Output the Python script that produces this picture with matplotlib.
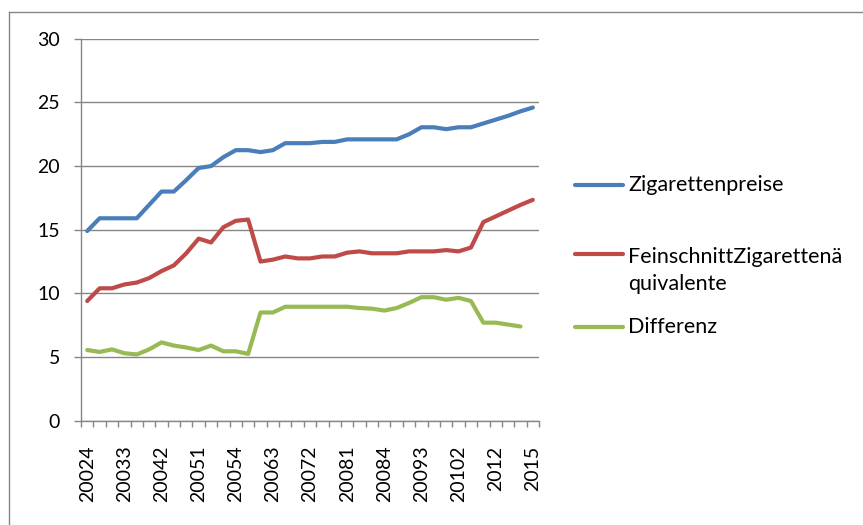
import numpy as np
import matplotlib.pyplot as plt
from matplotlib.lines import Line2D

plt.rcParams['font.family'] = ['Lato', 'DejaVu Sans']

#%% data
quartale = ['20024', '20031', '20032', '20033', '20034', '20041', '20042', '20043',
            '20044', '20051', '20052', '20053', '20054', '20061', '20062', '20063',
            '20064', '20071', '20072', '20073', '20074', '20081', '20082', '20083',
            '20084', '20091', '20092', '20093', '20094', '20101', '20102', '20103',
            '2011', '2012', '2013', '2014', '2015']

zigarettenpreise = [14.9, 15.9, 15.9, 15.9, 15.9, 16.95, 18.0, 18.0, 18.9, 19.85,
                    20.0, 20.7, 21.25, 21.25, 21.1, 21.25, 21.8, 21.8, 21.8, 21.9,
                    21.9, 22.1, 22.1, 22.1, 22.1, 22.1, 22.5, 23.05, 23.05, 22.9,
                    23.05, 23.05, 23.35, 23.65, 23.95, 24.3, 24.6]

feinschnitt = [9.4, 10.4, 10.4, 10.7, 10.85, 11.2, 11.75, 12.2, 13.15, 14.3,
               14.0, 15.2, 15.7, 15.8, 12.5, 12.65, 12.9, 12.75, 12.75, 12.9,
               12.9, 13.2, 13.3, 13.15, 13.15, 13.15, 13.3, 13.3, 13.3, 13.4,
               13.3, 13.6, 15.6, 16.05, 16.5, 16.95, 17.35]

differenz = [5.55, 5.4, 5.6, 5.3, 5.2, 5.6, 6.15, 5.9, 5.75, 5.55,
             5.9, 5.45, 5.45, 5.25, 8.5, 8.5, 8.95, 8.95, 8.95, 8.95,
             8.95, 8.95, 8.85, 8.8, 8.65, 8.85, 9.25, 9.7, 9.7, 9.5,
             9.65, 9.4, 7.7, 7.7, 7.55, 7.4]

namen = ['Zigarettenpreise', 'FeinschnittZigarettenä\nquivalente', 'Differenz']
farben = ['#4A7EBB', '#BE4B48', '#98B954']

#%%
fig = plt.figure(figsize=(8.63, 5.25), dpi=100)
ax = fig.add_axes([0.0939, 0.1987, 0.5307, 0.7274])

grau = '#868686'
x = np.arange(len(quartale))
ax.plot(x, zigarettenpreise, color=farben[0], lw=3.0, solid_capstyle='round', zorder=3)
ax.plot(x, feinschnitt, color=farben[1], lw=3.0, solid_capstyle='round', zorder=3)
ax.plot(x[:len(differenz)], differenz, color=farben[2], lw=3.0, solid_capstyle='round', zorder=3)

ax.set_xlim(-0.5, len(quartale) - 0.5)
ax.set_ylim(0, 30)
ax.set_yticks(np.arange(0, 31, 5))
ax.yaxis.grid(True, color=grau, lw=1.0)
ax.set_axisbelow(True)

for s in ['top', 'right']:
    ax.spines[s].set_visible(False)
for s in ['left', 'bottom']:
    ax.spines[s].set_color(grau)
    ax.spines[s].set_linewidth(1.0)

ax.tick_params(axis='y', length=5, width=1.0, color=grau, pad=10, labelsize=14)
ax.set_xticks(x[::3])
ax.set_xticklabels(quartale[::3], rotation=90, va='top', ha='center')
ax.set_xticks(np.arange(-0.5, len(quartale)), minor=True)
ax.tick_params(axis='x', which='major', length=0, pad=18, labelsize=14)
ax.tick_params(axis='x', which='minor', length=4, width=1.0, color=grau, direction='out')

# legend on the right
ly = [0.6476, 0.5162, 0.3771]
ty = [0.6476, 0.4848, 0.3771]
for farbe, name, yl, yt in zip(farben, namen, ly, ty):
    fig.add_artist(Line2D([0.6663, 0.7219], [yl, yl], color=farbe, lw=3.0,
                          solid_capstyle='round', transform=fig.transFigure))
    fig.text(0.7277, yt, name, va='center', ha='left', fontsize=15.5, linespacing=1.45)

# chart border
fig.add_artist(Line2D([0.011, 1.0], [0.977, 0.977], color=grau, lw=1.0, transform=fig.transFigure))
fig.add_artist(Line2D([0.011, 0.011], [0.0, 0.977], color=grau, lw=1.0, transform=fig.transFigure))

plt.savefig('out.png', dpi=100)
